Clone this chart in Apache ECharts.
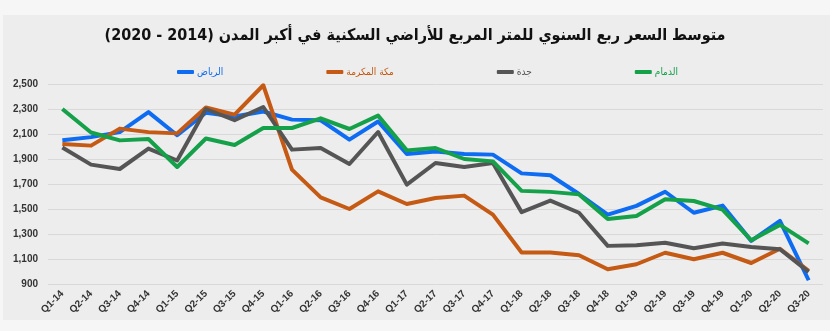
<!DOCTYPE html>
<html lang="ar">
<head>
<meta charset="utf-8">
<title>متوسط السعر ربع السنوي للمتر المربع</title>
<script src="https://cdn.jsdelivr.net/npm/echarts@6/dist/echarts.min.js"></script>
<style>
  html, body { margin: 0; padding: 0; background: #f6f6f6; }
  #chart { width: 830px; height: 331px; }
</style>
</head>
<body>
<div id="chart"></div>
<script>
// Quarters (Q1-14 .. Q3-20)
var quarters = ['Q1-14','Q2-14','Q3-14','Q4-14','Q1-15','Q2-15','Q3-15','Q4-15',
  'Q1-16','Q2-16','Q3-16','Q4-16','Q1-17','Q2-17','Q3-17','Q4-17',
  'Q1-18','Q2-18','Q3-18','Q4-18','Q1-19','Q2-19','Q3-19','Q4-19',
  'Q1-20','Q2-20','Q3-20'];

// Average price per square metre of residential land (SAR)
var riyadh = [2050,2075,2115,2275,2090,2270,2240,2280,2215,2210,2055,2200,1940,1960,1940,1935,
  1785,1770,1620,1455,1525,1638,1470,1527,1245,1405,930];
var makkah = [2020,2007,2143,2115,2105,2312,2255,2490,1815,1593,1500,1641,1540,1588,1607,1455,
  1152,1152,1130,1018,1058,1150,1098,1150,1068,1182,1005];
var jeddah = [1992,1855,1820,1983,1888,2300,2210,2316,1975,1988,1860,2116,1695,1868,1836,1868,
  1475,1567,1470,1205,1210,1230,1186,1224,1196,1178,997];
var dammam = [2300,2112,2049,2060,1836,2064,2012,2148,2148,2225,2140,2247,1969,1988,1900,1881,
  1645,1637,1617,1420,1444,1578,1564,1495,1250,1373,1225];

var seriesNames = ['الرياض', 'مكة المكرمة', 'جدة', 'الدمام'];
var seriesData = [riyadh, makkah, jeddah, dammam];
var seriesColors = ['#0d6cf2', '#c55a14', '#555555', '#15a04a'];

var chart = echarts.init(document.getElementById('chart'), null, { renderer: 'canvas' });

var option = {
  backgroundColor: '#f6f6f6',
  animation: false,
  graphic: [{
    type: 'rect', z: -10, silent: true,
    shape: { x: 3, y: 15, width: 827, height: 305 },
    style: { fill: '#ededed' }
  }],
  title: {
    text: 'متوسط السعر ربع السنوي للمتر المربع للأراضي السكنية في أكبر المدن (2014 - 2020)',
    left: 'center',
    top: 23,
    textStyle: { fontFamily: '"DejaVu Sans Condensed", "DejaVu Sans"', fontSize: 16, fontWeight: 'bold', color: '#111111' }
  },
  legend: {
    left: 172,
    top: 62,
    itemGap: 103,
    itemWidth: 17,
    itemHeight: 4,
    icon: 'roundRect',
    data: seriesNames.map(function (n, i) {
      return { name: n, textStyle: { color: seriesColors[i] } };
    }),
    textStyle: { fontFamily: '"DejaVu Sans Condensed", "DejaVu Sans"', fontSize: 10, padding: [0, 0, 0, -2] }
  },
  grid: { left: 48, right: 7, top: 84, bottom: 47, containLabel: false },
  xAxis: {
    type: 'category',
    data: quarters,
    boundaryGap: true,
    axisLine: { show: false },
    axisTick: { show: false },
    axisLabel: {
      rotate: 45,
      interval: 0,
      margin: 8,
      fontFamily: 'Liberation Sans',
      fontSize: 10,
      fontWeight: 'bold',
      color: '#333333'
    }
  },
  yAxis: {
    type: 'value',
    min: 900,
    max: 2500,
    interval: 200,
    axisLine: { show: false },
    axisTick: { show: false },
    splitLine: { lineStyle: { color: '#d9d9d9', width: 1 } },
    axisLabel: {
      margin: 10,
      fontFamily: 'Liberation Sans',
      fontSize: 10,
      fontWeight: 'bold',
      color: '#333333',
      formatter: function (v) { return v.toLocaleString('en-US'); }
    }
  },
  series: seriesNames.map(function (n, i) {
    return {
      name: n,
      type: 'line',
      data: seriesData[i],
      symbol: 'none',
      smooth: false,
      color: seriesColors[i],
      lineStyle: { width: 4, color: seriesColors[i], join: 'round' }
    };
  })
};

chart.setOption(option);
</script>
</body>
</html>
